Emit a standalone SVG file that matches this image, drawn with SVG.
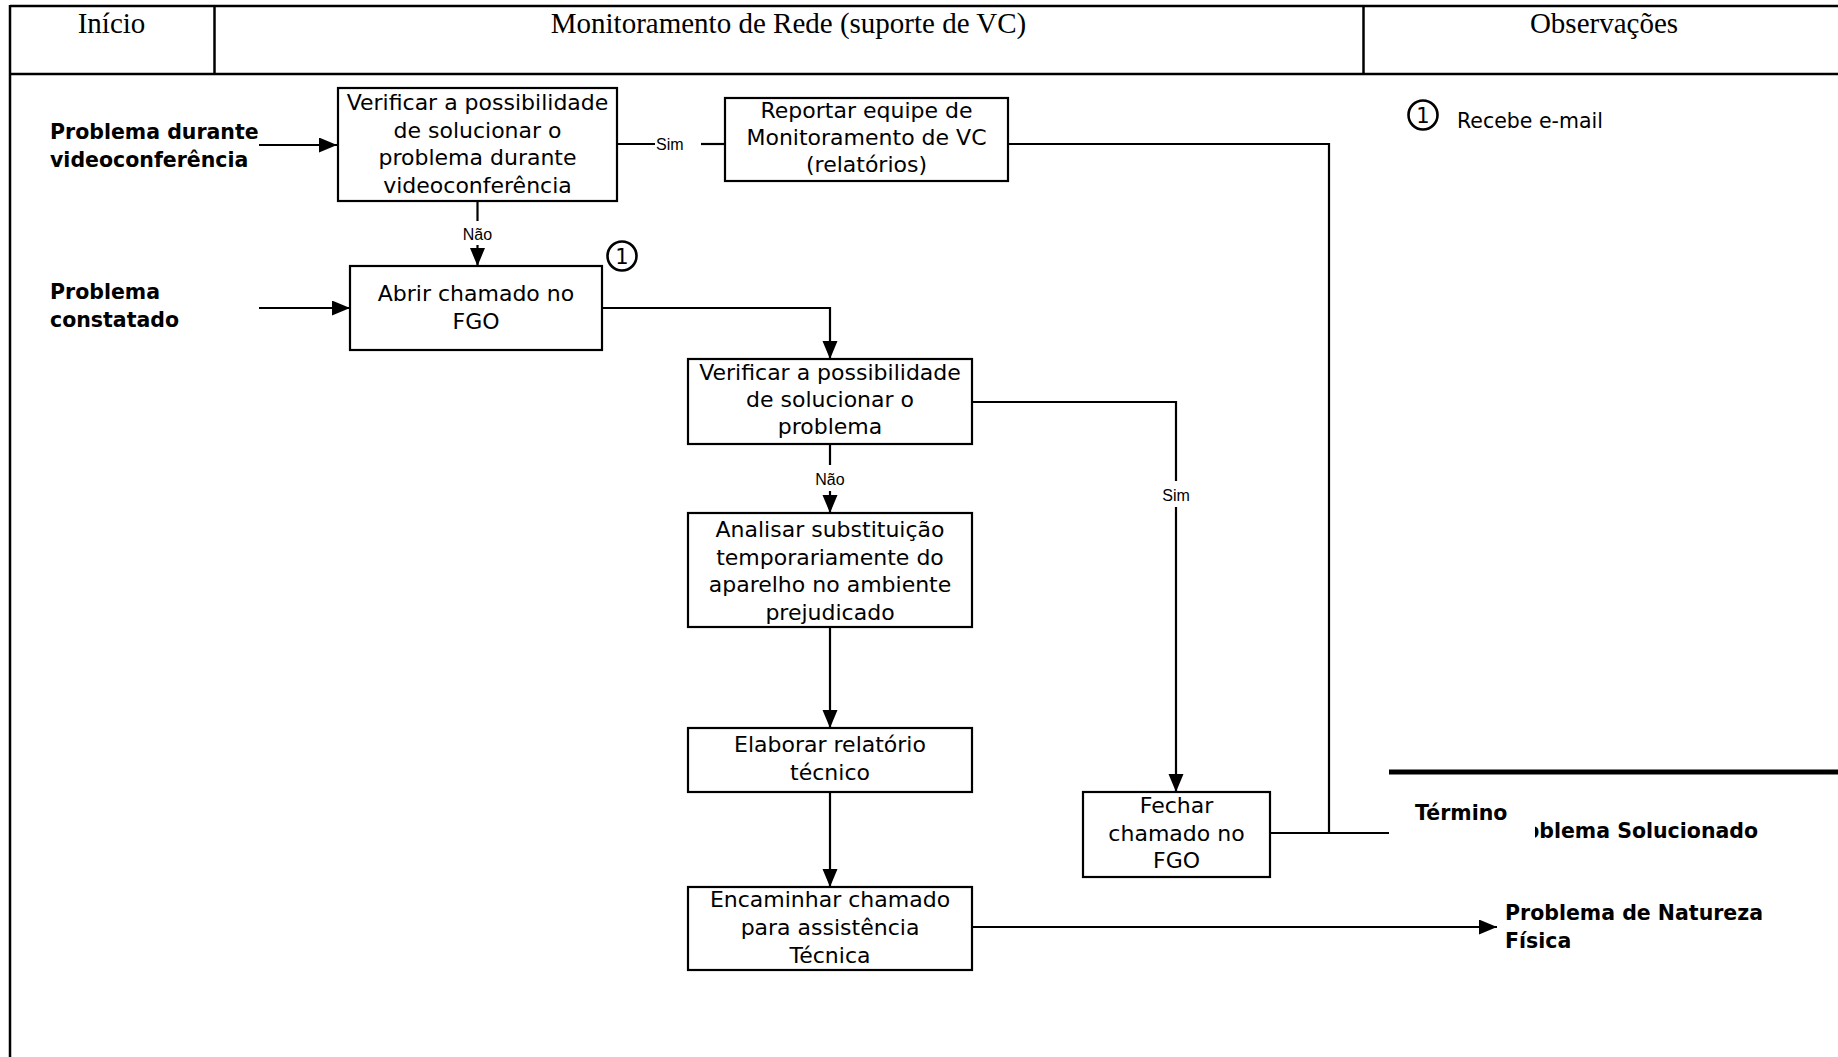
<svg xmlns="http://www.w3.org/2000/svg" width="1838" height="1057" viewBox="0 0 1838 1057">
  <style>
    .frame { stroke: #000; stroke-width: 2.5; fill: none; }
    .box { fill: #fff; stroke: #000; stroke-width: 2.2; }
    .conn { stroke: #000; stroke-width: 2.2; fill: none; }
    .hdr { font-family: "Liberation Serif", "Times New Roman", serif; font-size: 29px; fill: #000; text-anchor: middle; }
    .t { font-family: "DejaVu Sans", "Liberation Sans", sans-serif; font-size: 22px; fill: #000; text-anchor: middle; }
    .lbl { font-family: "Liberation Sans", Arial, sans-serif; font-size: 16px; fill: #000; }
    .b { font-family: "DejaVu Sans", "Liberation Sans", sans-serif; font-size: 20.5px; font-weight: bold; fill: #000; }
    .obs { font-family: "DejaVu Sans", "Liberation Sans", sans-serif; font-size: 20.5px; fill: #000; }
    .num { font-family: "DejaVu Sans", "Liberation Sans", sans-serif; font-size: 21px; fill: #000; text-anchor: middle; }
    .circ { fill: none; stroke: #000; stroke-width: 2.6; }
  </style>
  <defs>
    <marker id="arrow" markerUnits="userSpaceOnUse" markerWidth="19" markerHeight="16" refX="18" refY="7.5" orient="auto">
      <path d="M0,0 L18,7.5 L0,15 Z" fill="#000"/>
    </marker>
    <clipPath id="clipSol">
      <rect x="1535" y="790" width="303" height="70"/>
    </clipPath>
  </defs>
  <rect width="1838" height="1057" fill="#fff"/>

  <g id="table">
    <line class="frame" x1="10" y1="6" x2="1838" y2="6"/>
    <line class="frame" x1="10" y1="74" x2="1838" y2="74"/>
    <line class="frame" x1="10" y1="5" x2="10" y2="1057"/>
    <line class="frame" x1="214.5" y1="6" x2="214.5" y2="74"/>
    <line class="frame" x1="1363.5" y1="6" x2="1363.5" y2="74"/>
    <text class="hdr" x="111.5" y="33">Início</text>
    <text class="hdr" x="788.5" y="33">Monitoramento de Rede (suporte de VC)</text>
    <text class="hdr" x="1604" y="33">Observações</text>
  </g>

  <g id="connectors">
    <line class="conn" x1="259" y1="145" x2="337" y2="145" marker-end="url(#arrow)"/>
    <line class="conn" x1="259" y1="308" x2="350" y2="308" marker-end="url(#arrow)"/>
    <line class="conn" x1="477.5" y1="201" x2="477.5" y2="221"/>
    <text class="lbl" x="477.5" y="240" text-anchor="middle">Não</text>
    <line class="conn" x1="477.5" y1="245" x2="477.5" y2="266" marker-end="url(#arrow)"/>
    <line class="conn" x1="617" y1="144" x2="655" y2="144"/>
    <text class="lbl" x="656" y="150">Sim</text>
    <line class="conn" x1="701" y1="144" x2="725" y2="144"/>
    <polyline class="conn" points="1008,144 1329,144 1329,833"/>
    <line class="conn" x1="1270" y1="833" x2="1389" y2="833"/>
    <polyline class="conn" points="602,308 830,308 830,359" marker-end="url(#arrow)"/>
    <line class="conn" x1="830" y1="444" x2="830" y2="465"/>
    <text class="lbl" x="830" y="485" text-anchor="middle">Não</text>
    <line class="conn" x1="830" y1="491" x2="830" y2="513" marker-end="url(#arrow)"/>
    <polyline class="conn" points="972,402 1176,402 1176,481"/>
    <text class="lbl" x="1176" y="501" text-anchor="middle">Sim</text>
    <line class="conn" x1="1176" y1="507" x2="1176" y2="792" marker-end="url(#arrow)"/>
    <line class="conn" x1="830" y1="627" x2="830" y2="728" marker-end="url(#arrow)"/>
    <line class="conn" x1="830" y1="792" x2="830" y2="887" marker-end="url(#arrow)"/>
    <line class="conn" x1="972" y1="927" x2="1497" y2="927" marker-end="url(#arrow)"/>
  </g>

  <g id="start1">
    <text class="b" x="50" y="139">Problema durante</text>
    <text class="b" x="50" y="167">videoconferência</text>
  </g>
  <g id="start2">
    <text class="b" x="50" y="299">Problema</text>
    <text class="b" x="50" y="327">constatado</text>
  </g>

  <g id="n1">
    <rect class="box" x="338" y="88" width="279" height="113"/>
    <text class="t" x="477.5" y="110">Verificar a possibilidade</text>
    <text class="t" x="477.5" y="138">de solucionar o</text>
    <text class="t" x="477.5" y="165">problema durante</text>
    <text class="t" x="477.5" y="193">videoconferência</text>
  </g>
  <g id="n2">
    <rect class="box" x="725" y="98" width="283" height="83"/>
    <text class="t" x="866.5" y="118">Reportar equipe de</text>
    <text class="t" x="866.5" y="145">Monitoramento de VC</text>
    <text class="t" x="866.5" y="172">(relatórios)</text>
  </g>
  <g id="n3">
    <rect class="box" x="350" y="266" width="252" height="84"/>
    <text class="t" x="476" y="301">Abrir chamado no</text>
    <text class="t" x="476" y="329">FGO</text>
  </g>
  <g id="mark1">
    <circle class="circ" cx="622" cy="256" r="14.5"/>
    <text class="num" x="622" y="263.5">1</text>
  </g>
  <g id="n4">
    <rect class="box" x="688" y="359" width="284" height="85"/>
    <text class="t" x="830" y="380">Verificar a possibilidade</text>
    <text class="t" x="830" y="407">de solucionar o</text>
    <text class="t" x="830" y="434">problema</text>
  </g>
  <g id="n5">
    <rect class="box" x="688" y="513" width="284" height="114"/>
    <text class="t" x="830" y="537">Analisar substituição</text>
    <text class="t" x="830" y="565">temporariamente do</text>
    <text class="t" x="830" y="592">aparelho no ambiente</text>
    <text class="t" x="830" y="620">prejudicado</text>
  </g>
  <g id="n6">
    <rect class="box" x="688" y="728" width="284" height="64"/>
    <text class="t" x="830" y="752">Elaborar relatório</text>
    <text class="t" x="830" y="780">técnico</text>
  </g>
  <g id="n7">
    <rect class="box" x="688" y="887" width="284" height="83"/>
    <text class="t" x="830" y="907">Encaminhar chamado</text>
    <text class="t" x="830" y="935">para assistência</text>
    <text class="t" x="830" y="963">Técnica</text>
  </g>
  <g id="n8">
    <rect class="box" x="1083" y="792" width="187" height="85"/>
    <text class="t" x="1176.5" y="813">Fechar</text>
    <text class="t" x="1176.5" y="841">chamado no</text>
    <text class="t" x="1176.5" y="868">FGO</text>
  </g>

  <g id="end-termino">
    <line x1="1389" y1="772" x2="1838" y2="772" stroke="#000" stroke-width="5"/>
    <text class="b" x="1500" y="838" clip-path="url(#clipSol)">Problema Solucionado</text>
    <text class="b" x="1415" y="820">Término</text>
  </g>
  <g id="end-fisica">
    <text class="b" x="1505" y="920">Problema de Natureza</text>
    <text class="b" x="1505" y="948">Física</text>
  </g>

  <g id="obs">
    <circle class="circ" cx="1423" cy="115" r="14.5"/>
    <text class="num" x="1423" y="122.5">1</text>
    <text class="obs" x="1457" y="128">Recebe e-mail</text>
  </g>
</svg>
